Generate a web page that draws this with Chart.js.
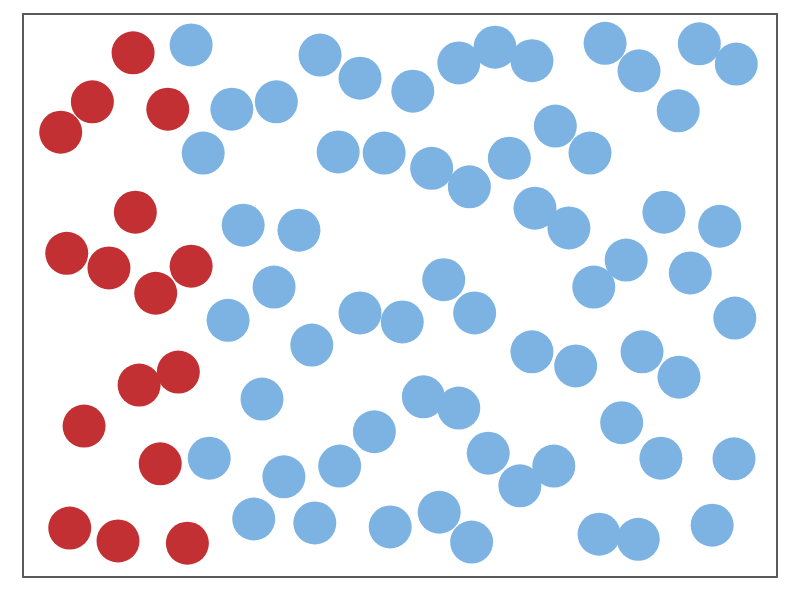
<!DOCTYPE html>
<html>
<head>
<meta charset="utf-8">
<script src="https://cdn.jsdelivr.net/npm/chart.js@4/dist/chart.umd.min.js"></script>
<style>
html,body{margin:0;padding:0;background:#fff;}
canvas{display:block;}
</style>
</head>
<body>
<canvas id="c" width="792" height="600"></canvas>
<script>
// Red group
const redX = [14.6, 9.2, 5.0, 19.2, 14.9, 5.8, 11.4, 22.3, 17.6, 20.6, 15.4, 8.1, 18.2, 6.2, 12.6, 21.8];
const redY = [93.1, 84.4, 79.0, 83.1, 64.8, 57.5, 54.9, 55.2, 50.4, 36.4, 34.1, 26.8, 20.1, 8.7, 6.4, 6.0];
// Blue group
const blueX = [22.3, 39.4, 44.7, 51.7, 57.8, 62.6, 67.5, 77.2, 81.7, 89.7, 94.6,
  27.7, 33.6, 23.9, 41.8, 47.9, 54.2, 59.2, 64.5, 70.6, 75.2, 86.9,
  29.2, 36.6, 67.9, 72.4, 85.0, 92.4,
  33.3, 27.2, 44.7, 50.3, 55.8, 59.9, 38.3, 80.0, 75.7, 88.5, 94.4,
  67.5, 73.3, 82.1, 87.0, 31.7, 53.1, 57.8, 46.6, 42.0, 34.6, 24.7,
  61.7, 65.9, 70.4, 79.4, 84.6, 94.3,
  30.6, 38.7, 48.7, 55.2, 59.5, 76.4, 81.6, 91.4];
const blueY = [94.5, 92.7, 88.6, 86.3, 91.3, 94.1, 91.7, 94.8, 89.9, 94.7, 91.1,
  83.1, 84.4, 75.3, 75.5, 75.3, 72.6, 69.3, 74.4, 80.1, 75.3, 82.8,
  62.5, 61.6, 65.5, 62.0, 64.8, 62.3,
  51.5, 45.6, 46.9, 45.3, 52.8, 46.9, 41.2, 56.3, 51.5, 54.0, 46.0,
  40.0, 37.5, 40.0, 35.5, 31.6, 32.0, 30.0, 25.8, 19.7, 17.8, 21.1,
  22.0, 16.2, 19.7, 27.4, 21.1, 21.0,
  10.3, 9.6, 8.9, 11.5, 6.2, 7.6, 6.7, 9.2];

const toPts = (xs, ys) => xs.map((x, i) => ({x: x, y: ys[i]}));

const frame = {
  id: 'frame',
  afterDraw(chart) {
    const a = chart.chartArea, ctx = chart.ctx;
    ctx.save();
    ctx.strokeStyle = '#5a5a5a';
    ctx.lineWidth = 2;
    ctx.strokeRect(a.left, a.top, a.right - a.left, a.bottom - a.top);
    ctx.restore();
  }
};

new Chart(document.getElementById('c'), {
  type: 'scatter',
  data: {
    datasets: [
      {label: 'A', data: toPts(redX, redY), backgroundColor: '#c33033', borderWidth: 0, pointRadius: 21.5, pointHoverRadius: 21.5},
      {label: 'B', data: toPts(blueX, blueY), backgroundColor: '#7db3e3', borderWidth: 0, pointRadius: 21.5, pointHoverRadius: 21.5}
    ]
  },
  options: {
    responsive: false,
    animation: false,
    layout: {autoPadding: false, padding: {left: 23, right: 15, top: 14, bottom: 23}},
    plugins: {legend: {display: false}, tooltip: {enabled: false}},
    scales: {
      x: {type: 'linear', min: 0, max: 100, display: false},
      y: {type: 'linear', min: 0, max: 100, display: false}
    }
  },
  plugins: [frame]
});
</script>
</body>
</html>
